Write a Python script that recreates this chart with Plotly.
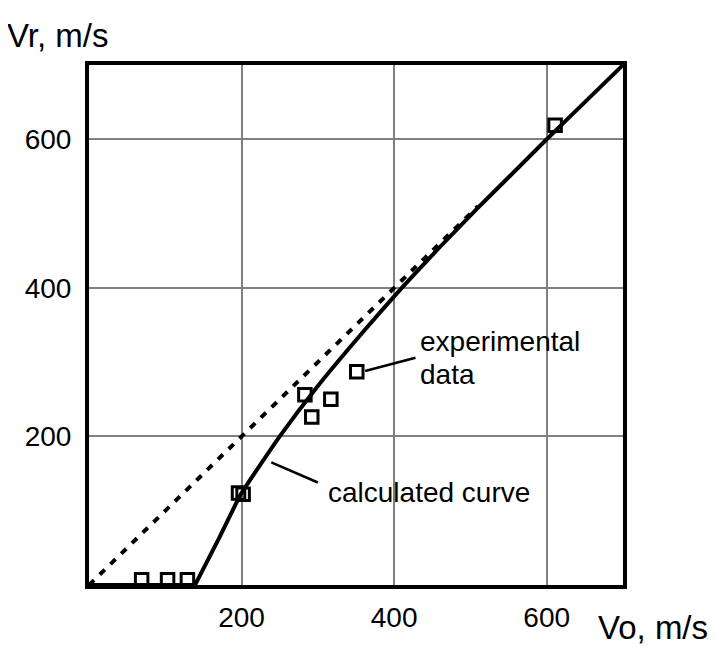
import plotly.graph_objects as go

# Experimental data (squares)
exp_vo = [69, 103, 129, 196, 202, 283, 292, 317, 351, 611]
exp_vr = [7, 7, 7, 124, 122, 256, 226, 250, 287, 619]

# Calculated curve: flat part (Vr = 0) then rising branch
calc_flat_vo = [0, 139]
calc_flat_vr = [0, 0]
calc_vo = [139, 170, 199, 250, 300, 362, 410, 460, 510, 560, 600, 650, 700]
calc_vr = [0, 62, 122, 200, 268, 344, 400, 455, 508, 559, 600, 650, 700]

# Dotted reference line Vr = Vo
ref_vo = [0, 510]
ref_vr = [0, 510]

tick_vals = [200, 400, 600]
tick_text = ["200", "400", "600"]

FONT = "Liberation Sans, Arial, sans-serif"

fig = go.Figure()
fig.add_trace(go.Scatter(x=ref_vo, y=ref_vr, mode="lines",
                         line=dict(color="black", width=4, dash="7px,8px"),
                         hoverinfo="skip", showlegend=False))
fig.add_trace(go.Scatter(x=calc_flat_vo, y=calc_flat_vr, mode="lines",
                         line=dict(color="black", width=4),
                         showlegend=False, cliponaxis=False))
fig.add_trace(go.Scatter(x=calc_vo, y=calc_vr, mode="lines",
                         line=dict(color="black", width=4, shape="spline", smoothing=0.4),
                         showlegend=False))
fig.add_trace(go.Scatter(x=exp_vo, y=exp_vr, mode="markers",
                         marker=dict(symbol="square-open", size=12.5, color="black",
                                     line=dict(width=3, color="black")),
                         showlegend=False, cliponaxis=False))

# leader lines
fig.add_shape(type="line", xref="x", yref="y", x0=362, y0=288, x1=428, y1=306,
              line=dict(color="black", width=2.5))
fig.add_shape(type="line", xref="x", yref="y", x0=239, y0=165, x1=300, y1=138,
              line=dict(color="black", width=2.5))

ann_font = dict(family=FONT, size=28, color="black")
fig.add_annotation(x=431, y=328, xref="x", yref="y", text="experimental",
                   showarrow=False, xanchor="left", yanchor="middle", font=ann_font)
fig.add_annotation(x=431, y=284, xref="x", yref="y", text="data",
                   showarrow=False, xanchor="left", yanchor="middle", font=ann_font)
fig.add_annotation(x=311, y=124, xref="x", yref="y", text="calculated curve",
                   showarrow=False, xanchor="left", yanchor="middle", font=ann_font)

title_font = dict(family=FONT, size=33, color="black")
fig.add_annotation(x=-0.157, y=1.056, xref="paper", yref="paper", text="Vr, m/s",
                   showarrow=False, xanchor="left", yanchor="middle", font=title_font)
fig.add_annotation(x=1.162, y=-0.082, xref="paper", yref="paper", text="Vo, m/s",
                   showarrow=False, xanchor="right", yanchor="middle", font=title_font)

axis_common = dict(range=[0, 700], tickvals=tick_vals, ticktext=tick_text,
                   showgrid=True, gridcolor="#808080", gridwidth=2,
                   showline=True, linecolor="black", linewidth=4, mirror=True,
                   zeroline=False, ticks="",
                   tickfont=dict(family=FONT, size=28, color="black"))

fig.update_layout(
    width=708, height=643,
    margin=dict(l=81, r=93, t=57, b=66),
    paper_bgcolor="white", plot_bgcolor="white",
    xaxis=dict(**axis_common, ticklabelstandoff=4),
    yaxis=dict(**axis_common, ticklabelstandoff=8),
)

fig.write_html("out.html")
